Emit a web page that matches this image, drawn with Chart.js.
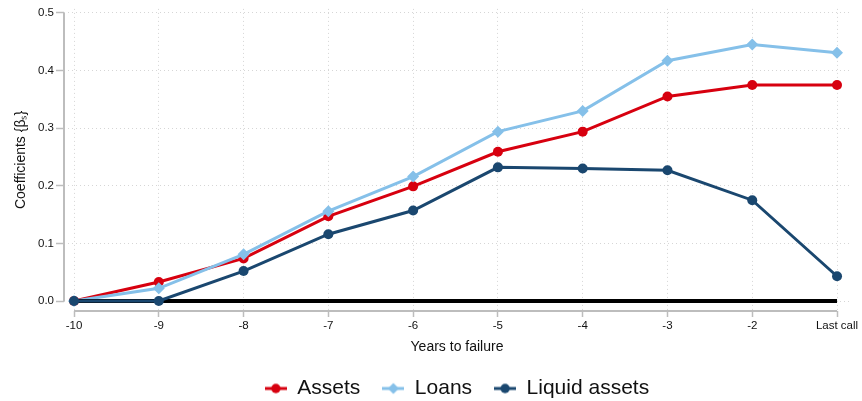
<!DOCTYPE html>
<html><head><meta charset="utf-8">
<script src="https://cdn.jsdelivr.net/npm/chart.js@4"></script>
<style>html,body{margin:0;padding:0;background:#fff}#wrap{width:862px;height:401px}</style>
</head><body><div id="wrap"><canvas id="c" width="862" height="401"></canvas></div>
<script>
const years = [-10, -9, -8, -7, -6, -5, -4, -3, -2, -1];
const lastCallLabel = 'Last call';
const assets = [0, 0.033, 0.074, 0.147, 0.199, 0.259, 0.294, 0.355, 0.375, 0.375];
const loans  = [0, 0.022, 0.081, 0.156, 0.216, 0.294, 0.330, 0.417, 0.445, 0.431];
const liquid = [0, 0, 0.052, 0.116, 0.157, 0.232, 0.230, 0.227, 0.175, 0.043];
const zeroLine = [0, 0, 0, 0, 0, 0, 0, 0, 0, 0];
const yTicks = [0, 0.1, 0.2, 0.3, 0.4, 0.5];

const RED = '#d7000f', LBLUE = '#85c0e9', NAVY = '#1a476f';
const FONT = "'Liberation Sans', Arial, sans-serif";

function legendIcon(color, style) {
  const c = document.createElement('canvas');
  c.width = 22; c.height = 14;
  const g = c.getContext('2d');
  g.strokeStyle = color; g.lineWidth = 3;
  g.beginPath(); g.moveTo(0, 7); g.lineTo(22, 7); g.stroke();
  g.fillStyle = color;
  g.beginPath();
  if (style === 'diamond') { g.moveTo(11, 1.5); g.lineTo(16.5, 7); g.lineTo(11, 12.5); g.lineTo(5.5, 7); g.closePath(); }
  else { g.arc(11, 7, 4.7, 0, Math.PI * 2); }
  g.fill();
  return c;
}

const pts = (arr) => years.map((x, i) => ({x, y: arr[i]}));

const axisLines = {
  id: 'axisLines',
  beforeDatasetsDraw(chart) {
    const {ctx, scales: {x, y}} = chart;
    ctx.save();
    ctx.strokeStyle = '#bdbdbd';
    ctx.lineWidth = 2;
    ctx.beginPath();
    ctx.moveTo(x.left, y.getPixelForValue(yTicks[yTicks.length - 1]));
    ctx.lineTo(x.left, y.getPixelForValue(yTicks[0]));
    ctx.moveTo(x.getPixelForValue(years[0]), y.bottom);
    ctx.lineTo(x.getPixelForValue(years[years.length - 1]), y.bottom);
    ctx.stroke();
    ctx.restore();
  }
};

new Chart(document.getElementById('c'), {
  type: 'line',
  data: {
    datasets: [
      {label: 'Assets', data: pts(assets), borderColor: RED, backgroundColor: RED, borderWidth: 3,
       pointRadius: 5, pointStyle: 'circle', pointBorderWidth: 0, order: 4, legendIcon: legendIcon(RED, 'circle')},
      {label: 'Loans', data: pts(loans), borderColor: LBLUE, backgroundColor: LBLUE, borderWidth: 3,
       pointRadius: 6, pointStyle: 'rectRot', pointBorderWidth: 0, order: 3, legendIcon: legendIcon(LBLUE, 'diamond')},
      {label: 'Liquid assets', data: pts(liquid), borderColor: NAVY, backgroundColor: NAVY, borderWidth: 3,
       pointRadius: 5, pointStyle: 'circle', pointBorderWidth: 0, order: 1, legendIcon: legendIcon(NAVY, 'circle')},
      {label: 'zero', data: pts(zeroLine), borderColor: '#000', borderWidth: 4, pointRadius: 0, order: 2}
    ]
  },
  options: {
    responsive: false,
    animation: false,
    devicePixelRatio: 1,
    layout: {padding: {left: 0, right: 12, top: 2, bottom: -8}},
    scales: {
      x: {
        type: 'linear', min: -10.118, max: -0.847,
        afterBuildTicks: (s) => { s.ticks = years.map(v => ({value: v})); },
        afterFit: (s) => { s.height = 45; },
        ticks: {autoSkip: false, maxRotation: 0, color: '#111', padding: 2,
                font: {family: FONT, size: 11.5},
                callback: (v) => v === years[years.length - 1] ? lastCallLabel : String(v)},
        grid: {color: '#d6d6d6', lineWidth: 1, tickLength: 6, tickColor: '#bdbdbd', tickWidth: 1.5, tickBorderDash: []},
        border: {display: false, dash: [1, 3]},
        title: {display: true, text: 'Years to failure', color: '#111', font: {family: FONT, size: 14}, padding: {top: 3, bottom: 0}}
      },
      y: {
        min: -0.0173, max: 0.507,
        afterBuildTicks: (s) => { s.ticks = yTicks.map(v => ({value: v})); },
        afterFit: (s) => { s.width = 64; },
        ticks: {color: '#111', padding: 2, font: {family: FONT, size: 11.5}, callback: (v) => v.toFixed(1)},
        grid: {color: '#d6d6d6', lineWidth: 1, tickLength: 8, tickColor: '#bdbdbd', tickWidth: 1.5, tickBorderDash: []},
        border: {display: false, dash: [1, 3]},
        title: {display: true, text: 'Coefficients {βₛ}', color: '#111', font: {family: FONT, size: 14}, padding: {top: 13, bottom: 4}}
      }
    },
    plugins: {
      legend: {
        position: 'bottom', fullSize: false,
        labels: {
          usePointStyle: true, pointStyleWidth: 22, boxHeight: 14, padding: 22,
          color: '#111', font: {family: FONT, size: 21},
          generateLabels: (chart) => chart.data.datasets.filter(d => d.legendIcon).map((d, i) => ({
            text: d.label, pointStyle: d.legendIcon, datasetIndex: i, lineWidth: 0,
            fillStyle: d.borderColor, strokeStyle: d.borderColor, fontColor: '#111'
          }))
        }
      },
      tooltip: {enabled: false}
    }
  },
  plugins: [axisLines]
});
</script>
</body></html>
